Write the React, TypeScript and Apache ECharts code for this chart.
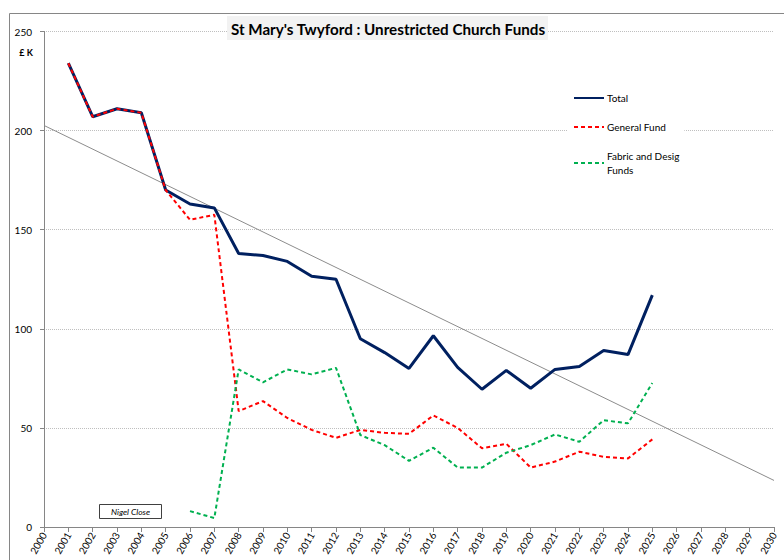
import React, { useEffect, useRef } from "react";
import * as echarts from "echarts";

const years: number[] = [2001, 2002, 2003, 2004, 2005, 2006, 2007, 2008, 2009, 2010, 2011, 2012, 2013, 2014, 2015, 2016, 2017, 2018, 2019, 2020, 2021, 2022, 2023, 2024, 2025];
const totalFunds: number[] = [234, 207, 211, 209, 170, 163, 161, 138, 137, 134, 126.5, 125, 95, 88, 80, 96.5, 80.5, 69.5, 79, 70, 79.5, 81, 89, 87, 117];
const generalFund: number[] = [234, 207, 211, 209, 170, 155, 157.5, 58.5, 63.5, 55, 49, 45, 49, 47.5, 47, 56.3, 50, 39.7, 42, 30, 33, 38, 35.4, 34.6, 44.2];
const fabricYears: number[] = [2006, 2007, 2008, 2009, 2010, 2011, 2012, 2013, 2014, 2015, 2016, 2017, 2018, 2019, 2020, 2021, 2022, 2023, 2024, 2025];
const fabricFunds: number[] = [8, 4.5, 79.5, 73, 79.5, 77, 80.3, 46.4, 41.3, 33.4, 40, 30, 30, 37.5, 41.3, 46.7, 43, 53.9, 52.3, 72.7];
const trendYears: number[] = [2000, 2030];
const trendValues: number[] = [202.6, 23.5];

const seriesNames = ["Total", "General Fund", "Fabric and Desig\nFunds"];
const titleText = "St Mary's Twyford : Unrestricted Church Funds";
const unitText = "£ K";
const authorText = "Nigel Close";

const FONT = "Lato, 'Open Sans', sans-serif";

export default function App() {
  const ref = useRef<HTMLDivElement>(null);
  useEffect(() => {
    if (!ref.current) return;
    const chart = echarts.init(ref.current, undefined, { renderer: "svg" });
    const pair = (xs: number[], ys: number[]) => xs.map((x, i) => [x, ys[i]]);
    chart.setOption({
      animation: false,
      backgroundColor: "#ffffff",
      textStyle: { fontFamily: FONT },
      grid: {
        left: 44,
        top: 31.5,
        width: 730,
        height: 495.5,
        containLabel: false,
        outerBoundsMode: "none",
      },
      xAxis: {
        type: "value",
        min: 2000,
        max: 2030,
        interval: 1,
        axisLine: { show: true, onZero: false, lineStyle: { color: "#868686", width: 1 } },
        axisTick: { show: true, length: 5, lineStyle: { color: "#868686" } },
        splitLine: { show: false },
        axisLabel: {
          rotate: 60,
          margin: 6,
          fontSize: 10,
          color: "#000",
          fontFamily: FONT,
          formatter: (v: number) => String(v),
        },
      },
      yAxis: {
        type: "value",
        min: 0,
        max: 250,
        interval: 50,
        axisLine: { show: true, lineStyle: { color: "#868686", width: 1 } },
        axisTick: { show: true, length: 4, lineStyle: { color: "#868686" } },
        splitLine: { show: true, lineStyle: { color: "#bfbfbf", type: [1, 1], width: 1 } },
        axisLabel: { margin: 12, fontSize: 10, color: "#000", fontFamily: FONT },
      },
      legend: {
        orient: "vertical",
        left: 568,
        top: 84,
        padding: [7, 5, 8, 5],
        backgroundColor: "#ffffff",
        itemWidth: 30,
        itemHeight: 14,
        itemGap: 15,
        data: seriesNames,
        itemStyle: { opacity: 0 },
        textStyle: { fontSize: 10, color: "#000", fontFamily: FONT, lineHeight: 14, padding: [0, 0, 0, -2] },
      },
      series: [
        {
          name: "Trend",
          type: "line",
          data: pair(trendYears, trendValues),
          symbol: "none",
          silent: true,
          lineStyle: { color: "#8c8c8c", width: 1 },
          itemStyle: { color: "#8c8c8c" },
          z: 1,
        },
        {
          name: seriesNames[0],
          type: "line",
          data: pair(years, totalFunds),
          symbol: "none",
          lineStyle: { color: "#002060", width: 3 },
          itemStyle: { color: "#002060" },
          z: 2,
        },
        {
          name: seriesNames[1],
          type: "line",
          data: pair(years, generalFund),
          symbol: "none",
          lineStyle: { color: "#ff0000", width: 2, type: [4, 3] },
          itemStyle: { color: "#ff0000" },
          z: 3,
        },
        {
          name: seriesNames[2],
          type: "line",
          data: pair(fabricYears, fabricFunds),
          symbol: "none",
          lineStyle: { color: "#00b050", width: 2, type: [4, 3] },
          itemStyle: { color: "#00b050" },
          z: 4,
        },
      ],
      graphic: [
        {
          type: "rect",
          silent: true,
          z: -10,
          shape: { x: 9.5, y: 13.5, width: 800, height: 600 },
          style: { fill: "none", stroke: "#868686", lineWidth: 1 },
        },
        {
          type: "rect",
          silent: true,
          z: 10,
          shape: { x: 227, y: 16, width: 321, height: 24 },
          style: { fill: "#f2f2f2" },
        },
        {
          type: "text",
          silent: true,
          z: 11,
          x: 388,
          y: 28.5,
          style: {
            text: titleText,
            fontFamily: FONT,
            fontWeight: "bold",
            fontSize: 15.2,
            fill: "#000",
            align: "center",
            verticalAlign: "middle",
          },
        },
        {
          type: "text",
          silent: true,
          z: 11,
          x: 26,
          y: 52,
          style: {
            text: unitText,
            fontFamily: FONT,
            fontWeight: "bold",
            fontSize: 9,
            fill: "#000",
            align: "center",
            verticalAlign: "middle",
          },
        },
        {
          type: "rect",
          silent: true,
          z: 10,
          shape: { x: 99.5, y: 504.5, width: 62, height: 14 },
          style: { fill: "#fff", stroke: "#404040", lineWidth: 1 },
        },
        {
          type: "text",
          silent: true,
          z: 11,
          x: 130.5,
          y: 511.5,
          style: {
            text: authorText,
            fontFamily: FONT,
            fontStyle: "italic",
            fontSize: 8.5,
            fill: "#000",
            align: "center",
            verticalAlign: "middle",
          },
        },
      ],
    });
    return () => chart.dispose();
  }, []);
  return (
    <div
      ref={ref}
      style={{ position: "absolute", left: 0, top: 0, width: 784, height: 560 }}
    />
  );
}
